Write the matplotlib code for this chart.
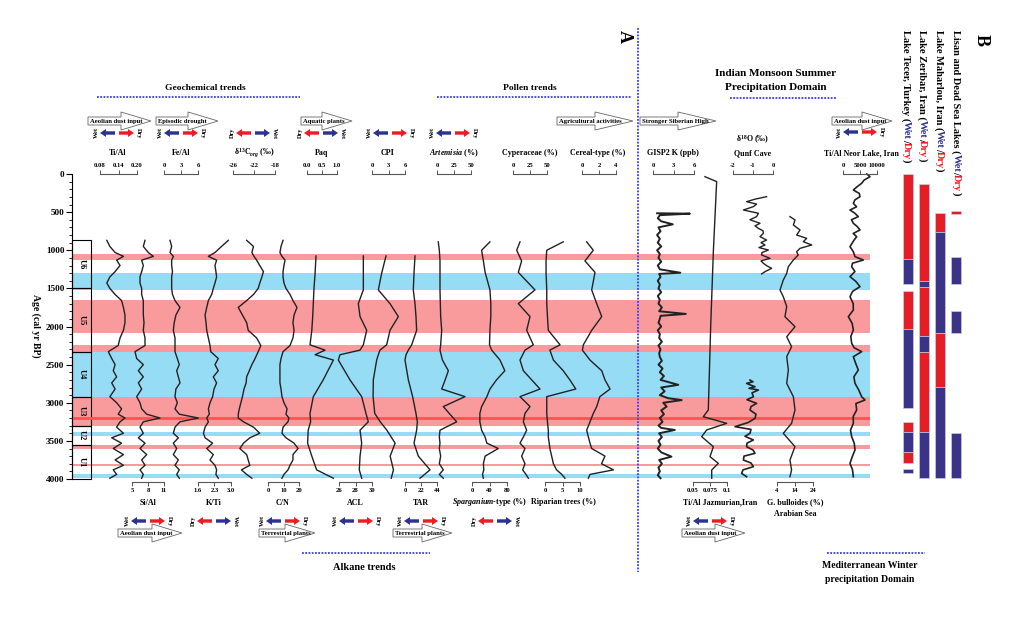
import matplotlib
matplotlib.use('Agg')
import matplotlib.pyplot as plt
from matplotlib.patches import FancyArrow, Rectangle
from matplotlib.ticker import MultipleLocator

plt.rcParams['font.family'] = ['Liberation Serif', 'DejaVu Serif']
plt.rcParams['font.weight'] = 'bold'
plt.rcParams['mathtext.fontset'] = 'custom'
plt.rcParams['mathtext.rm'] = 'Liberation Serif:bold'
plt.rcParams['mathtext.it'] = 'Liberation Serif:italic:bold'
plt.rcParams['mathtext.bf'] = 'Liberation Serif:bold'

# ---------------- data ----------------
pink_start = [1050, 1650, 2240, 2920, 3550, 3800]
pink_end = [1130, 2090, 2330, 3300, 3600, 3830]
blue_start = [1300, 2330, 3390, 3940]
blue_end = [1520, 2920, 3440, 3990]
red_line = 3200

unit_names = ['U6', 'U5', 'U4', 'U3', 'U2', 'U1']
unit_top = [866, 1500, 2330, 2920, 3300, 3560]
unit_bottom = [1500, 2330, 2920, 3300, 3560, 4000]

core_age = [870, 950, 1030, 1080, 1130, 1200, 1280, 1350, 1430, 1500, 1580, 1660, 1750, 1850,
            1950, 2050, 2150, 2250, 2330, 2420, 2500, 2580, 2660, 2740, 2820, 2920, 3000, 3080,
            3150, 3200, 3250, 3320, 3400, 3460, 3530, 3600, 3680, 3750, 3820, 3880, 3940, 3990]
ti_al = [0.102, 0.112, 0.129, 0.156, 0.134, 0.145, 0.129, 0.112, 0.102, 0.112, 0.129, 0.150, 0.156, 0.161,
         0.161, 0.156, 0.145, 0.139, 0.107, 0.118, 0.129, 0.123, 0.134, 0.118, 0.129, 0.112, 0.134, 0.150,
         0.139, 0.161, 0.145, 0.134, 0.156, 0.118, 0.150, 0.123, 0.156, 0.129, 0.156, 0.123, 0.134, 0.112]
si_al = [7.44, 7.12, 8.06, 9.0, 6.81, 7.12, 6.81, 6.5, 6.5, 6.81, 6.81, 7.12, 7.12, 7.12,
         7.25, 7.12, 7.44, 7.44, 5.56, 5.88, 7.12, 6.19, 7.12, 6.19, 6.81, 5.88, 6.5, 6.81,
         7.75, 10.25, 7.12, 6.5, 7.12, 6.19, 7.44, 6.5, 7.75, 6.81, 7.44, 6.5, 7.12, 6.81]
fe_al = [1.06, 1.35, 1.06, 1.65, 1.35, 1.35, 1.5, 1.35, 1.35, 1.35, 1.5, 1.94, 2.82, 2.1,
         1.8, 1.65, 1.94, 1.94, 1.94, 2.35, 2.7, 2.24, 2.53, 2.82, 2.1, 1.94, 2.35, 1.94,
         2.7, 6.06, 2.82, 1.94, 1.65, 2.53, 1.65, 2.24, 1.65, 2.53, 1.94, 2.7, 2.24, 2.7]
k_ti = [2.885, 2.6, 2.32, 2.04, 2.39, 2.32, 2.36, 2.39, 2.32, 2.25, 2.18, 2.04, 1.97, 1.9,
        1.94, 1.97, 2.04, 2.11, 2.14, 2.46, 2.32, 2.46, 2.25, 2.39, 2.28, 2.22, 2.11, 2.04,
        2.08, 1.97, 2.04, 1.9, 1.83, 1.9, 2.22, 1.97, 2.25, 2.11, 2.32, 2.39, 2.36, 2.46]
d13c = [-23.4, -22.1, -22.4, -22.0, -21.5, -20.9, -20.2, -20.5, -20.9, -21.2, -22.1, -23.4, -25.0, -24.2,
        -23.4, -23.1, -21.5, -20.7, -21.2, -21.8, -22.4, -22.9, -23.4, -23.5, -23.9, -24.2, -24.5, -24.8,
        -25.0, -25.0, -24.0, -22.1, -20.9, -22.8, -24.0, -24.7, -23.4, -23.1, -22.8, -24.4, -23.4, -22.4]
c_n = [9.7, 8.4, 7.7, 9.0, 11.0, 10.3, 9.7, 9.7, 10.3, 11.6, 14.2, 16.1, 18.7, 16.8,
       16.1, 16.8, 16.1, 14.2, 9.7, 8.4, 7.7, 7.7, 7.7, 7.7, 8.4, 9.0, 10.3, 12.3,
       11.6, 13.5, 12.9, 9.7, 9.0, 11.6, 16.8, 19.4, 16.1, 16.1, 14.2, 12.9, 10.3, 9.0]

alkane_age = [1075, 1300, 1520, 1700, 1870, 2050, 2240, 2310, 2370, 2440, 2700, 2920, 3140, 3250,
              3360, 3530, 3700, 3880, 3990]
paq = [0.30, 0.27, 0.23, 0.21, 0.19, 0.16, 0.10, 0.60, 0.27, 0.88, 0.54, 0.21, 0.10, 0.12,
       0.04, 0.02, 0.16, 0.32, 0.88]
acl = [28.95, 28.95, 28.95, 28.34, 28.55, 29.36, 28.95, 28.55, 26.12, 25.92, 27.33, 28.75, 29.27, 29.55,
       28.55, 28.75, 28.55, 28.46, 28.75]
cpi = [2.55, 1.76, 1.15, 3.27, 4.79, 3.27, 2.67, 1.45, 1.15, 0.85, 0.24, 0.2, 0.5, 1.5,
       2.7, 4.2, 3.3, 3.9, 3.5]
tar = [13.75, 12.4, 11.4, 13.75, 15.1, 16.0, 9.2, 4.6, 1.4, 0.0, 4.6, 10.5, 15.1, 17.0,
       16.0, 12.4, 18.3, 34.4, 20.6]

pollen_age = [890, 1000, 1140, 1290, 1520, 1700, 1870, 2050, 2240, 2310, 2440, 2580, 2700, 2820,
              2920, 3050, 3140, 3250, 3360, 3450, 3530, 3600, 3700, 3800, 3880, 3940, 3990]
artemisia = [1.9, 3.4, 4.4, 4.4, 4.4, 4.9, 5.4, 6.9, 5.4, 4.4, 8.0, 16.7, 12.0, 6.9,
             41.2, 9.3, 18.0, 28.9, 4.4, 3.4, 4.4, 3.4, 5.4, 3.4, 9.3, 3.4, 9.3]
sparganium = [41, 22, 26, 30, 41, 43, 43, 41, 40, 45, 64, 75, 56, 41,
              34, 22, 18, 18, 22, 30, 34, 60, 30, 26, 27, 24, 26]
cyperaceae = [10.3, 5.4, 12.7, 7.8, 32.3, 7.8, 25.0, 20.1, 29.9, 17.6, 10.3, 15.2, 27.5, 39.7,
              10.3, 25.0, 17.6, 15.2, 20.1, 15.2, 10.3, 17.6, 12.7, 17.6, 14.2, 19.1, 22.6]
riparian = [5.2, 0.5, 0.3, 0.3, 0.5, 0.5, 0.7, 0.95, 4.3, 1.4, 2.4, 5.2, 7.1, 8.8,
            0.5, 0.5, 0.5, 0.7, 0.95, 0.95, 1.2, 1.4, 1.9, 2.4, 3.3, 4.8, 5.7]
cereal = [0.55, 1.33, 0.35, 1.53, 1.14, 1.73, 2.32, 1.14, 0.16, 0.05, 0.94, 2.32, 2.7, 3.3,
          2.1, 1.73, 1.33, 0.94, 0.55, 0.75, 0.94, 1.14, 2.7, 2.3, 3.7, 0.94, 0.75]

gisp_age = [515, 520, 540, 580, 620, 660, 700, 750, 800, 850, 900, 950, 1000, 1050, 1100, 1150,
            1200, 1250, 1295, 1310, 1350, 1400, 1450, 1500, 1550, 1600, 1650, 1700, 1750, 1800,
            1835, 1860, 1900, 1950, 2000, 2050, 2100, 2150, 2200, 2250, 2300, 2350, 2400, 2450,
            2500, 2550, 2600, 2650, 2700, 2765, 2800, 2850, 2900, 2940, 2965, 3000, 3050, 3100,
            3150, 3200, 3250, 3300, 3330, 3357, 3400, 3450, 3500, 3550, 3600, 3650, 3707, 3750,
            3800, 3850, 3900, 3950, 3990]
gisp_k = [0.6, 5.4, 1.0, 0.7, 1.2, 2.9, 0.8, 1.1, 0.6, 1.0, 0.7, 1.2, 0.6, 1.0, 0.8, 1.2,
          0.7, 1.0, 4.0, 0.9, 1.1, 0.7, 1.0, 0.8, 1.2, 0.7, 1.0, 0.8, 1.3, 0.9,
          4.8, 1.1, 1.0, 0.8, 1.2, 0.7, 1.0, 0.9, 1.3, 0.8, 1.1, 0.9, 1.0, 1.3,
          0.8, 1.4, 1.0, 1.6, 1.1, 3.7, 1.2, 1.7, 1.0, 2.2, 4.2, 1.5, 2.0, 1.2,
          1.6, 1.0, 1.4, 0.8, 1.2, 3.2, 0.9, 1.3, 0.8, 1.1, 0.7, 1.2, 2.7, 0.9,
          1.3, 0.8, 1.0, 0.7, 1.1]

jaz_age = [35, 100, 1000, 2000, 3095, 3183, 3270, 3357, 3445, 3576, 3707, 3795, 3882, 3990]
jaz_ti_al = [0.0676, 0.0848, 0.080, 0.076, 0.0725, 0.0651, 0.0995, 0.0701, 0.0628, 0.0799,
             0.075, 0.0872, 0.0775, 0.0775]

qunf_age1 = [297, 330, 363, 395, 428, 472, 515, 559, 600, 647, 680, 713, 745, 778, 822, 866, 900,
             931, 965, 997, 1030, 1062, 1106, 1140, 1171, 1205, 1237, 1281, 1311]
qunf_d18o1 = [-0.32, -0.9, -1.32, -0.82, -0.98, -1.48, -0.73, -0.82, -1.15, -0.65, -0.9, -0.73, -0.5,
              -0.48, -0.65, -0.32, -0.6, -0.4, -0.7, -0.23, -0.55, -0.57, -0.15, -0.6, -0.48, -0.3,
              -0.07, -0.4, -0.57]
qunf_age2 = [2702, 2725, 2746, 2770, 2790, 2810, 2833, 2870, 2921, 2960, 3008, 3050, 3095, 3150, 3205,
             3260, 3313, 3350, 3401, 3440, 3488, 3530, 3576, 3620, 3663, 3700, 3751, 3790, 3838, 3880,
             3926, 3970]
qunf_d18o2 = [-1.15, -1.0, -1.32, -1.1, -0.9, -1.2, -0.73, -1.05, -0.98, -1.3, -0.82, -1.1, -1.15, -0.85,
              -0.9, -1.25, -1.9, -1.1, -1.15, -1.4, -0.98, -1.3, -1.32, -1.0, -0.9, -1.45, -1.48, -1.1,
              -0.98, -1.5, -1.57, -1.32]

bull_age = [559, 603, 669, 734, 800, 844, 888, 931, 975, 1019, 1062, 1128, 1215, 1303, 1390, 1521,
            1609, 1740, 1871, 2002, 2134, 2265, 2396, 2571, 2746, 2921, 3095, 3270, 3401, 3576,
            3751, 3882, 3970]
bulloides = [11.2, 14.0, 13.1, 16.8, 14.9, 20.5, 18.6, 23.3, 16.8, 14.9, 15.8, 13.1, 10.3, 9.4, 7.5,
             5.67, 7.5, 9.4, 8.4, 14.0, 9.4, 12.1, 9.4, 10.3, 9.4, 13.1, 14.0, 12.1, 7.5, 14.0,
             11.2, 12.1, 11.2]

neor_age = [0, 35, 80, 122, 165, 210, 255, 297, 340, 385, 430, 472, 515, 559, 600, 647, 690, 734,
            780, 822, 870, 953, 1020, 1084, 1128, 1170, 1215, 1280, 1346, 1410, 1477, 1540, 1609,
            1700, 1784, 1871, 1960, 2046, 2130, 2221, 2280, 2330, 2396, 2480, 2571, 2660, 2746,
            2830, 2921, 2964, 3010, 3095, 3180, 3270, 3360, 3445, 3530, 3620, 3710, 3795, 3880, 3970]
neor_ti_al = [7000, 7940, 6200, 5490, 4200, 3040, 4800, 5000, 3500, 3040, 4000, 2060, 3500, 4500,
              2500, 3040, 4200, 5000, 3000, 4020, 3200, 2060, 3040, 3530, 5980, 2800, 2550, 3500,
              2060, 3800, 5000, 2800, 2060, 3000, 3040, 1570, 2700, 3040, 2300, 2550, 3300, 5490,
              3040, 3700, 4500, 3200, 3530, 4600, 5490, 6470, 3800, 4020, 3000, 3040, 2200, 2550,
              3300, 3530, 2700, 2060, 2800, 3040]

lake_names = ['Lake Tecer, Turkey', 'Lake Zeribar, Iran', 'Lake Maharlou, Iran', 'Lisan and Dead Sea Lakes']
tecer_start = [0, 1115, 1535, 2037, 3257, 3380, 3642, 3873]
tecer_end = [1115, 1447, 2037, 3073, 3380, 3642, 3795, 3927]
tecer_wet = [0, 1, 0, 1, 0, 1, 0, 1]
zeribar_start = [130, 1403, 1478, 2120, 2330, 3380]
zeribar_end = [1403, 1478, 2120, 2330, 3380, 3991]
zeribar_wet = [0, 1, 0, 1, 0, 1]
maharlou_start = [507, 765, 2090, 2789]
maharlou_end = [765, 2090, 2789, 3991]
maharlou_wet = [0, 1, 0, 1]
lisan_start = [481, 1093, 1797, 3400]
lisan_end = [529, 1447, 2090, 3991]
lisan_wet = [0, 1, 1, 1]

# ---------------- style ----------------
PINK = '#f99a9d'
CYAN = '#97dcf5'
DARKRED = '#ff5252'
ARROW_BLUE = '#2e3192'
ARROW_RED = '#ed1c24'
BAR_RED = '#e31e25'
BAR_BLUE = '#3a3388'
DOT_BLUE = '#3a3aff'
LINE = '#222222'

W, H = 1016, 622
TOP, BOT = 174, 479

fig = plt.figure(figsize=(W / 100, H / 100), dpi=100)


def strip(x0, x1):
    ax = fig.add_axes([x0 / W, 1 - BOT / H, (x1 - x0) / W, (BOT - TOP) / H])
    ax.set_facecolor('none')
    ax.set_ylim(4000, 0)
    for s in ax.spines.values():
        s.set_visible(False)
    return ax


# age axis with bands and units
age_ax = strip(72, 870)
age_ax.set_xlim(0, 1)
age_ax.set_xticks([])
age_ax.spines['left'].set_visible(True)
age_ax.spines['left'].set_linewidth(0.8)
age_ax.set_yticks(range(0, 4001, 500))
age_ax.yaxis.set_minor_locator(MultipleLocator(100))
age_ax.tick_params(axis='y', which='major', length=4, width=0.8, labelsize=6.6, pad=1.5)
age_ax.tick_params(axis='y', which='minor', length=2, width=0.6)
for lo, hi in zip(pink_start, pink_end):
    age_ax.axhspan(lo, hi, color=PINK, lw=0)
for lo, hi in zip(blue_start, blue_end):
    age_ax.axhspan(lo, hi, color=CYAN, lw=0)
age_ax.axhline(red_line, color=DARKRED, lw=2.0)

box_w = 19 / 798
for name, a, b in zip(unit_names, unit_top, unit_bottom):
    age_ax.add_patch(Rectangle((0, a), box_w, b - a, fill=False, ec='black', lw=0.8, clip_on=False))
    age_ax.text(box_w / 2, (a + b) / 2, name, rotation=270, ha='center', va='center', fontsize=6)


def panel(x0, x1, lim, ticks, labels, ages, vals, top, lw=1.0):
    ax = strip(x0, x1)
    ax.set_xlim(*lim)
    ax.set_yticks([])
    side = 'top' if top else 'bottom'
    ax.spines[side].set_visible(True)
    ax.spines[side].set_color('#555555')
    ax.spines[side].set_linewidth(0.8)
    if not top:
        ax.spines['bottom'].set_position(('outward', 2))
    ax.xaxis.set_ticks_position(side)
    ax.set_xticks(ticks)
    ax.set_xticklabels(labels)
    ax.tick_params(axis='x', length=3, width=0.7, color='#555555', pad=1.5, labelsize=4.8,
                   labeltop=top, labelbottom=not top)
    ax.plot(vals, ages, color=LINE, lw=lw, clip_on=False)
    return ax


panel(100, 137, (0.08, 0.20), [0.08, 0.14, 0.20], ['0.08', '0.14', '0.20'], core_age, ti_al, True)
panel(132, 164, (5, 11), [5, 8, 11], ['5', '8', '11'], core_age, si_al, False)
panel(164, 198, (0, 6), [0, 3, 6], ['0', '3', '6'], core_age, fe_al, True)
panel(198, 231, (1.6, 3.0), [1.6, 2.3, 3.0], ['1.6', '2.3', '3.0'], core_age, k_ti, False)
panel(233, 275, (-26, -18), [-26, -22, -18], ['-26', '-22', '-18'], core_age, d13c, True)
panel(268, 299, (0, 20), [0, 10, 20], ['0', '10', '20'], core_age, c_n, False)
panel(307, 337, (0, 1), [0, 0.5, 1], ['0.0', '0.5', '1.0'], alkane_age, paq, True)
panel(339, 372, (26, 30), [26, 28, 30], ['26', '28', '30'], alkane_age, acl, False)
panel(372, 405, (0, 6), [0, 3, 6], ['0', '3', '6'], alkane_age, cpi, True)
panel(405, 437, (0, 44), [0, 22, 44], ['0', '22', '44'], alkane_age, tar, False)
panel(437, 471, (0, 50), [0, 25, 50], ['0', '25', '50'], pollen_age, artemisia, True)
panel(472, 507, (0, 80), [0, 40, 80], ['0', '40', '80'], pollen_age, sparganium, False)
panel(513, 547, (0, 50), [0, 25, 50], ['0', '25', '50'], pollen_age, cyperaceae, True)
panel(545, 580, (0, 10), [0, 5, 10], ['0', '5', '10'], pollen_age, riparian, False)
panel(582, 616, (0, 4), [0, 2, 4], ['0', '2', '4'], pollen_age, cereal, True)

panel(653, 694, (0, 6), [0, 3, 6], ['0', '3', '6'], gisp_age, gisp_k, True, lw=1.4)
panel(693, 727, (0.05, 0.1), [0.05, 0.075, 0.1], ['0.05', '0.075', '0.1'], jaz_age, jaz_ti_al, False)
q = panel(733, 773, (-2, 0), [-2, -1, 0], ['-2', '-1', '0'], qunf_age1, qunf_d18o1, True)
q.plot(qunf_d18o2, qunf_age2, color=LINE, lw=1.2, clip_on=False)
panel(777, 813, (4, 24), [4, 14, 24], ['4', '14', '24'], bull_age, bulloides, False)
panel(843, 877, (0, 10000), [0, 5000, 10000], ['0', '5000', '10000'], neor_age, neor_ti_al, True, lw=1.2)

# lake wet/dry bars
lake_ax = strip(900, 964)
lake_ax.set_xlim(-0.5, 3.5)
lake_ax.set_xticks([])
lake_ax.set_yticks([])
lakes = [(tecer_start, tecer_end, tecer_wet), (zeribar_start, zeribar_end, zeribar_wet),
         (maharlou_start, maharlou_end, maharlou_wet), (lisan_start, lisan_end, lisan_wet)]
for i, (st, en, wet) in enumerate(lakes):
    heights = [e - s for s, e in zip(st, en)]
    colors = [BAR_BLUE if w else BAR_RED for w in wet]
    lake_ax.bar([i] * len(st), heights, bottom=st, width=0.68, color=colors,
                edgecolor='#d6d6ee', linewidth=0.4)

# ---------------- annotation layer (pixel coordinates) ----------------
deco = fig.add_axes([0, 0, 1, 1], zorder=10)
deco.set_xlim(0, W)
deco.set_ylim(H, 0)
deco.axis('off')


def dotted(x0, x1, y0, y1):
    deco.plot([x0, x1], [y0, y1], color=DOT_BLUE, lw=1.3, ls=(0, (1.0, 0.8)))


def hollow_arrow(x0, x1, y, label, head=30):
    deco.add_patch(FancyArrow(x0, y, x1 - x0, 0, width=8, head_width=18, head_length=head,
                              length_includes_head=True, fc='white', ec='#666666', lw=0.6))
    deco.text(x0 + 2, y + 0.5, label, fontsize=4.8, ha='left', va='center')


def wet_dry(cx, y, left_wet=True):
    lc, rc = (ARROW_BLUE, ARROW_RED) if left_wet else (ARROW_RED, ARROW_BLUE)
    ll, rl = ('Wet', 'Dry') if left_wet else ('Dry', 'Wet')
    deco.add_patch(FancyArrow(cx - 2, y, -15, 0, width=3.4, head_width=8, head_length=6,
                              length_includes_head=True, color=lc, lw=0))
    deco.add_patch(FancyArrow(cx + 2, y, 15, 0, width=3.4, head_width=8, head_length=6,
                              length_includes_head=True, color=rc, lw=0))
    deco.text(cx - 21, y, ll, rotation=90, fontsize=4.6, ha='center', va='center')
    deco.text(cx + 21, y, rl, rotation=270, fontsize=4.6, ha='center', va='center')


def label(x, y, s, size=5.8):
    deco.text(x, y, s, fontsize=size, ha='center', va='center')


# section headers
label(205, 88, 'Geochemical trends', 6.8)
dotted(97, 300, 97, 97)
label(530, 88, 'Pollen trends', 6.8)
dotted(437, 632, 97, 97)
label(776, 74, 'Indian Monsoon Summer', 8)
label(776, 88, 'Precipitation Domain', 8)
dotted(730, 836, 98, 98)
label(364, 567, 'Alkane trends', 7.5)
dotted(302, 430, 553, 553)
label(870, 565, 'Mediterranean Winter', 7)
label(870, 579, 'precipitation Domain', 7)
dotted(827, 925, 553, 553)
dotted(638, 638, 28, 572)
deco.text(624, 36, 'A', fontsize=13, rotation=270, ha='center', va='center')
deco.text(981, 40, 'B', fontsize=13, rotation=270, ha='center', va='center')
deco.text(36, 326, 'Age (cal yr BP)', fontsize=7, rotation=270, ha='center', va='center')

# top row
hollow_arrow(88, 151, 121, 'Aeolian dust input')
hollow_arrow(156, 218, 121, 'Episodic drought')
hollow_arrow(301, 352, 121, 'Aquatic plants')
hollow_arrow(557, 633, 121, 'Agricultural activities', 38)
hollow_arrow(640, 716, 121, 'Stronger Siberian High', 38)
hollow_arrow(832, 892, 121, 'Aeolian dust input')
wet_dry(117, 133, True)
wet_dry(181, 133, True)
wet_dry(253, 133, False)
wet_dry(321, 133, False)
wet_dry(390, 133, True)
wet_dry(453, 133, True)
wet_dry(860, 132, True)

label(118, 153, 'Ti/Al')
label(181, 153, 'Fe/Al')
label(254, 153, r'δ$^{13}$C$_{org}$ (‰)')
label(322, 153, 'Paq')
label(388, 153, 'CPI')
label(454, 153, r'$\mathit{Artemisia}$ (%)')
label(530, 153, 'Cyperaceae (%)')
label(598, 153, 'Cereal-type (%)')
label(673, 153, 'GISP2 K (ppb)')
label(753, 140, r'δ$^{18}$O (‰)')
label(753, 153, 'Qunf Cave')
label(861, 153, 'Ti/Al Neor Lake, Iran')

# bottom row
label(148, 503, 'Si/Al')
label(214, 503, 'K/Ti')
label(283, 503, 'C/N')
label(355, 503, 'ACL')
label(421, 503, 'TAR')
label(490, 502, r'$\mathit{Sparganium}$-type (%)')
label(563, 502, 'Riparian trees (%)')
label(720, 502, 'Ti/Al Jazmurian,Iran')
label(795, 502, 'G. bulloides (%)')
label(795, 514, 'Arabian Sea')
wet_dry(148, 521, True)
wet_dry(214, 521, False)
wet_dry(283, 521, True)
wet_dry(356, 521, True)
wet_dry(421, 521, True)
wet_dry(495, 521, False)
wet_dry(710, 521, True)
hollow_arrow(118, 182, 533, 'Aeolian dust input')
hollow_arrow(259, 315, 533, 'Terrestrial plants')
hollow_arrow(393, 452, 533, 'Terrestrial plants')
hollow_arrow(682, 745, 533, 'Aeolian dust input')

# lake names with coloured Wet/Dry
renderer = fig.canvas.get_renderer()
for name, x in zip(lake_names, [906, 922, 939, 956]):
    y = 30
    for s, c in [(name + ' (', 'black'), ('Wet', ARROW_BLUE), ('/', 'black'), ('Dry', ARROW_RED), (')', 'black')]:
        t = deco.text(x, y, s, color=c, fontsize=7.5, rotation=270, ha='center', va='top')
        y += t.get_window_extent(renderer).height

fig.savefig('out.png', dpi=100)
